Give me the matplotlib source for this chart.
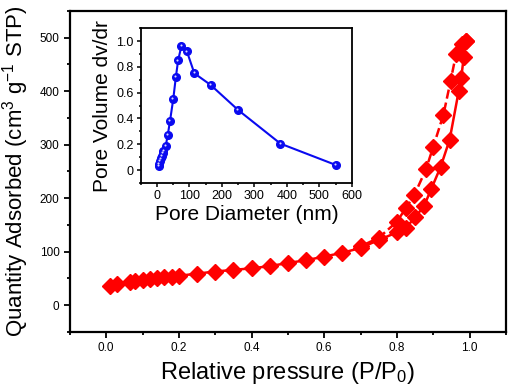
import matplotlib
matplotlib.use('Agg')
import matplotlib.pyplot as plt
from matplotlib.ticker import MultipleLocator
from matplotlib import transforms
import numpy as np

plt.rcParams['font.family'] = ['Liberation Sans', 'DejaVu Sans']
plt.rcParams['mathtext.fontset'] = 'custom'
plt.rcParams['mathtext.rm'] = 'Liberation Sans'
plt.rcParams['mathtext.it'] = 'Liberation Sans:italic'

# isotherm, adsorption branch
ads_p = [0.01, 0.03, 0.065, 0.08, 0.10, 0.12, 0.14, 0.16, 0.18, 0.20, 0.25, 0.30,
         0.35, 0.40, 0.45, 0.50, 0.55, 0.60, 0.65, 0.70, 0.75, 0.80, 0.825, 0.85,
         0.875, 0.895, 0.92, 0.945, 0.97, 0.977, 0.984, 0.99]
ads_q = [35, 40, 43, 45, 47, 49, 51, 52, 53, 55, 59, 63,
         66, 69, 73, 79, 84, 91, 98, 107, 122, 136, 145, 164,
         186, 218, 258, 309, 400, 425, 464, 494]
# desorption branch
des_p = [0.99, 0.98, 0.963, 0.948, 0.928, 0.90, 0.88, 0.848, 0.825, 0.80, 0.75, 0.70]
des_q = [494, 489, 470, 420, 356, 296, 254, 206, 182, 156, 126, 110]

# pore size distribution (inset)
pore_d = [5, 7, 9, 11, 14, 17, 20, 27, 33, 40, 50, 58, 65, 75, 92, 115, 165, 250, 380, 550]
pore_v = [0.03, 0.05, 0.07, 0.09, 0.11, 0.13, 0.15, 0.19, 0.27, 0.38, 0.55, 0.72,
          0.85, 0.96, 0.92, 0.75, 0.66, 0.465, 0.205, 0.04]

fig = plt.figure(figsize=(5.1, 3.91), dpi=100)
ax = fig.add_axes([0.137, 0.151, 0.855, 0.821])

ax.plot(ads_p, ads_q, color='red', lw=1.8, marker='D', ms=8.5, mec='red', zorder=3)
ax.plot(des_p, des_q, color='red', lw=1.8, ls='--', marker='D', ms=8.5, mec='red', zorder=3)

ax.set_xlim(-0.1, 1.1)
ax.set_ylim(-50, 550)
ax.xaxis.set_minor_locator(MultipleLocator(0.1))
ax.yaxis.set_minor_locator(MultipleLocator(50))
ax.set_xticks(np.arange(0, 1.01, 0.2))
ax.set_yticks(np.arange(0, 501, 100))
ax.tick_params(which='both', direction='out', top=False, right=False, width=1.3)
ax.tick_params(which='major', length=4, labelsize=8.5)
ax.tick_params(which='minor', length=2)
for s in ax.spines.values():
    s.set_linewidth(1.6)
ax.set_xlabel(r'Relative pressure (P/P$\mathregular{_0}$)', fontsize=17, labelpad=4)
ax.set_ylabel(r'Quantity Adsorbed (cm$\mathregular{^3}$ g$\mathregular{^{-1}}$ STP)', fontsize=16, labelpad=6)

# inset
ins = fig.add_axes([0.276, 0.532, 0.414, 0.396])
ins.plot(pore_d, pore_v, color='#0a0af0', lw=1.5, marker='o', ms=5.5, mec='#0a0af0', zorder=3)
hl = transforms.offset_copy(ins.transData, fig=fig, x=-0.6, y=0.6, units='points')
ins.plot(pore_d, pore_v, ls='none', marker='o', ms=1.5, mew=0, color='#d8d8ff', transform=hl, zorder=4)
ins.set_xlim(-50, 600)
ins.set_ylim(-0.1, 1.1)
ins.set_xticks(np.arange(0, 601, 100))
ins.set_yticks([0, 0.2, 0.4, 0.6, 0.8, 1.0])
ins.set_yticklabels(['0', '0.2', '0.4', '0.6', '0.8', '1.0'])
ins.xaxis.set_minor_locator(MultipleLocator(50))
ins.yaxis.set_minor_locator(MultipleLocator(0.1))
ins.tick_params(which='both', direction='out', top=False, right=False, width=1.1)
ins.tick_params(which='major', length=3, labelsize=9, pad=2)
ins.tick_params(which='minor', length=1.5)
for s in ins.spines.values():
    s.set_linewidth(1.3)
ins.set_xlabel('Pore Diameter (nm)', fontsize=15, labelpad=2)
ins.set_ylabel('Pore Volume dv/dr', fontsize=15, labelpad=3)

fig.savefig('out.png', dpi=100)
